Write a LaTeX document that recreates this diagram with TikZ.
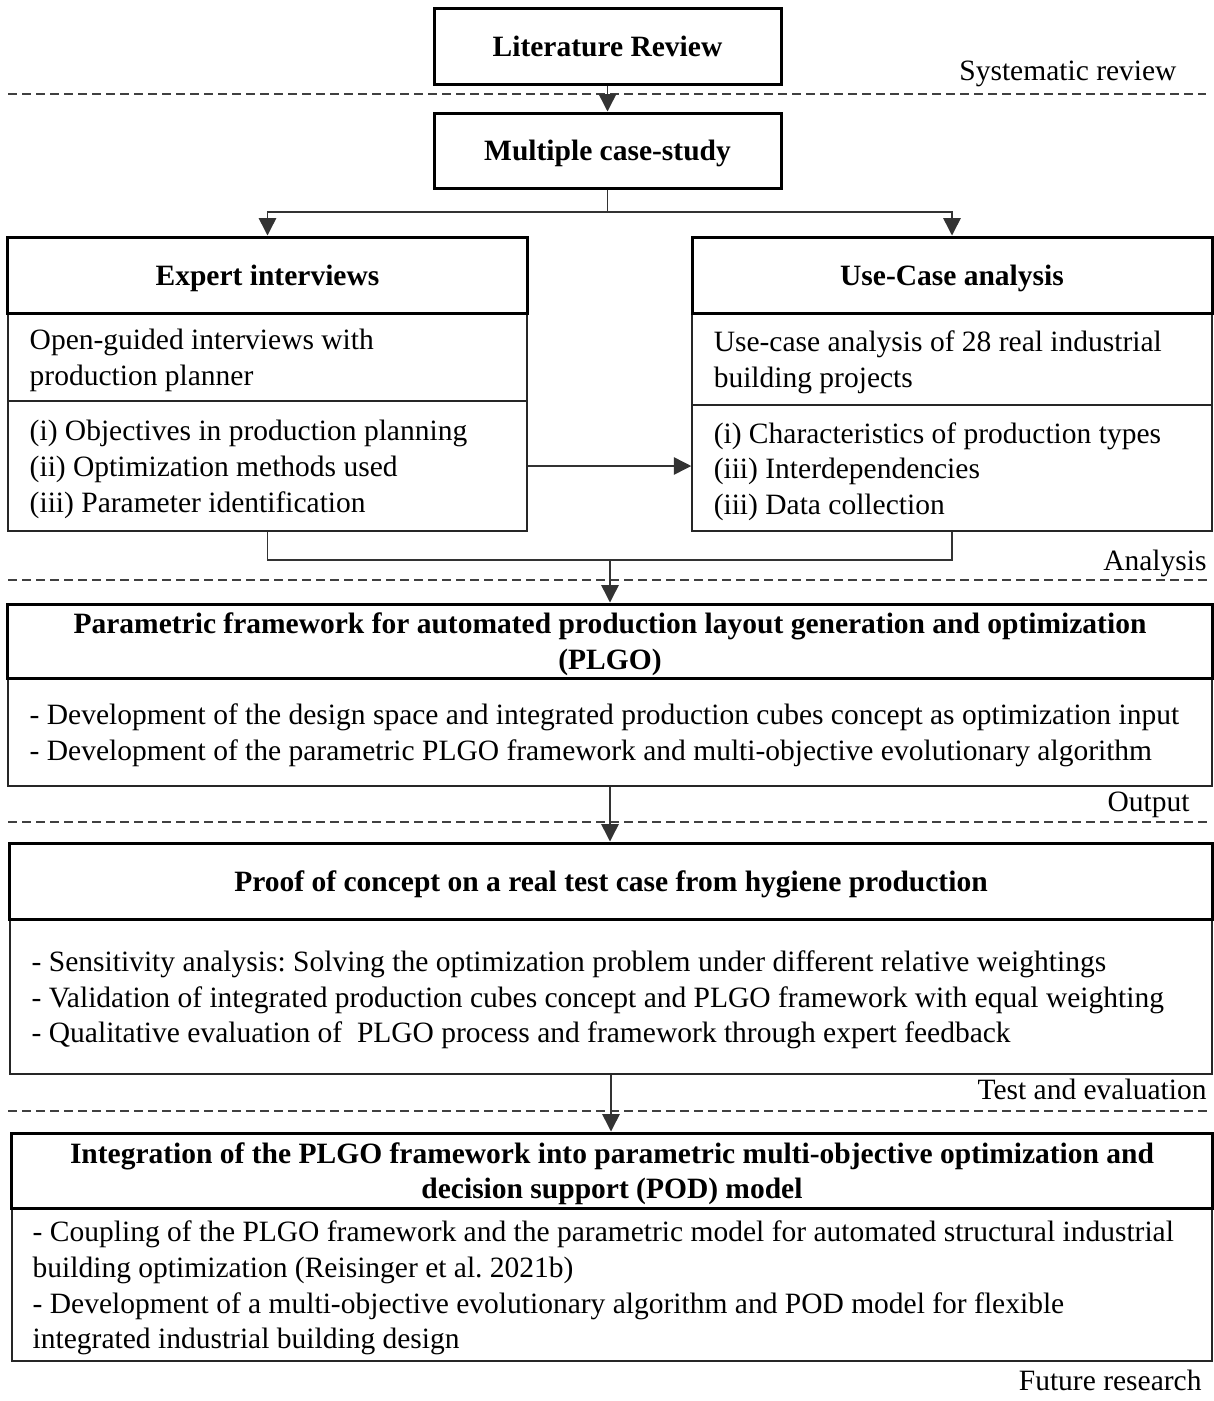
\documentclass[tikz,border=0pt]{standalone}
\usepackage{fontspec}
\setmainfont{Liberation Serif}
\usetikzlibrary{arrows.meta}
\frenchspacing
\begin{document}
\begin{tikzpicture}[x=0.4pt,y=-0.4pt,
  font=\fontsize{11.8pt}{14.3pt}\selectfont,
  hdr/.style={draw=black, line width=1.2pt, minimum height=30.4pt, inner sep=0pt,
    text depth=0pt, align=center, font=\fontsize{11.8pt}{14.2pt}\selectfont\bfseries},
  bodybox/.style={draw=black!85, line width=0.6pt, inner sep=0pt},
  bodytext/.style={anchor=west, align=left, inner sep=0pt, yshift=-1.4pt},
  conn/.style={draw=black!80, line width=0.6pt},
  arr/.style={conn, -{Triangle[length=7pt,width=7pt]}},
  sep/.style={draw=black!75, line width=0.6pt, dash pattern=on 3.6pt off 2pt},
  phase/.style={anchor=base east, inner sep=0pt}
]
\useasboundingbox[fill=white] (0,0) rectangle (1214,1401);

% phase separators
\draw[sep] (8,94) -- (1206,94);
\draw[sep] (8,580) -- (1208,580);
\draw[sep] (8,822) -- (1208,822);
\draw[sep] (8,1111) -- (1208,1111);

% phase labels
\node[phase] (lsys) at (1177,80) {Systematic review};
\node[phase] (lana) at (1207,570) {Analysis};
\node[phase] (lout) at (1190,811) {Output};
\node[phase] (ltest) at (1207,1099) {Test and evaluation};
\node[phase] (lfut) at (1202,1390) {Future research};

% top boxes
\node[hdr, minimum width=138.8pt, minimum height=30.4pt] (lr) at (607.5,46) {Literature Review};
\node[hdr, minimum width=138.8pt, minimum height=30pt] (mcs) at (607.5,150.5) {Multiple case-study};

% expert interviews
\node[bodybox, minimum width=207.6pt, minimum height=35.2pt] (ei1) at (267.5,357) {};
\node[bodybox, minimum width=207.6pt, minimum height=52pt] (ei2) at (267.5,466) {};
\node[hdr, minimum width=207.6pt] (eih) at (267.5,275) {Expert interviews};
\node[bodytext] (ei1t) at ([xshift=8.8pt]ei1.west) {Open-guided interviews with\\production planner};
\node[bodytext] (ei2t) at ([xshift=8.8pt]ei2.west) {(i) Objectives in production planning\\(ii) Optimization methods used\\(iii) Parameter identification};

% use-case analysis
\node[bodybox, minimum width=208pt, minimum height=36.8pt] (uc1) at (952,359) {};
\node[bodybox, minimum width=208pt, minimum height=50.4pt] (uc2) at (952,468) {};
\node[hdr, minimum width=208pt] (uch) at (952,275) {Use-Case analysis};
\node[bodytext] (uc1t) at ([xshift=8.8pt]uc1.west) {Use-case analysis of 28 real industrial\\building projects};
\node[bodytext] (uc2t) at ([xshift=8.8pt]uc2.west) {(i) Characteristics of production types\\(iii) Interdependencies\\(iii) Data collection};

% PLGO framework
\node[bodybox, minimum width=481.6pt, minimum height=43.2pt] (plb) at (610,732) {};
\node[hdr, minimum width=481.6pt, minimum height=29.6pt] (plh) at (610,641) {Parametric framework for automated production layout generation and optimization\\(PLGO)};
\node[bodytext] (plt) at ([xshift=8.8pt]plb.west) {- Development of the design space and integrated production cubes concept as optimization input\\- Development of the parametric PLGO framework and multi-objective evolutionary algorithm};

% proof of concept
\node[bodybox, minimum width=480.8pt, minimum height=62pt] (pcb) at (611,996.5) {};
\node[hdr, minimum width=480.8pt] (pch) at (611,881) {Proof of concept on a real test case from hygiene production};
\node[bodytext] (pct) at ([xshift=8.8pt]pcb.west) {- Sensitivity analysis: Solving the optimization problem under different relative weightings\\- Validation of integrated production cubes concept and PLGO framework with equal weighting\\- Qualitative evaluation of~ PLGO process and framework through expert feedback};

% integration / future research
\node[bodybox, minimum width=480pt, minimum height=61.2pt] (inb) at (612,1284.5) {};
\node[hdr, minimum width=480pt, minimum height=30pt] (inh) at (612,1170.5) {Integration of the PLGO framework into parametric multi-objective optimization and\\decision support (POD) model};
\node[bodytext] (intx) at ([xshift=8.4pt]inb.west) {- Coupling of the PLGO framework and the parametric model for automated structural industrial\\building optimization (Reisinger et al. 2021b)\\- Development of a multi-objective evolutionary algorithm and POD model for flexible\\integrated industrial building design};

% connectors
\draw[arr] (lr.south) -- (mcs.north);
\coordinate (split) at (mcs.south |- 0,212);
\draw[conn] (mcs.south) -- (split);
\draw[arr] (split) -| (eih.north);
\draw[arr] (split) -| (uch.north);
\draw[arr] (ei2.east) -- (ei2.east -| uc2.west);
\coordinate (merge) at (plh.north |- 0,560);
\draw[conn] (ei2.south) |- (merge) -| (uc2.south);
\draw[arr] (merge) -- (plh.north);
\draw[arr] (plb.south) -- (plb.south |- pch.north);
\draw[arr] (pcb.south) -- (pcb.south |- inh.north);
\end{tikzpicture}
\end{document}
